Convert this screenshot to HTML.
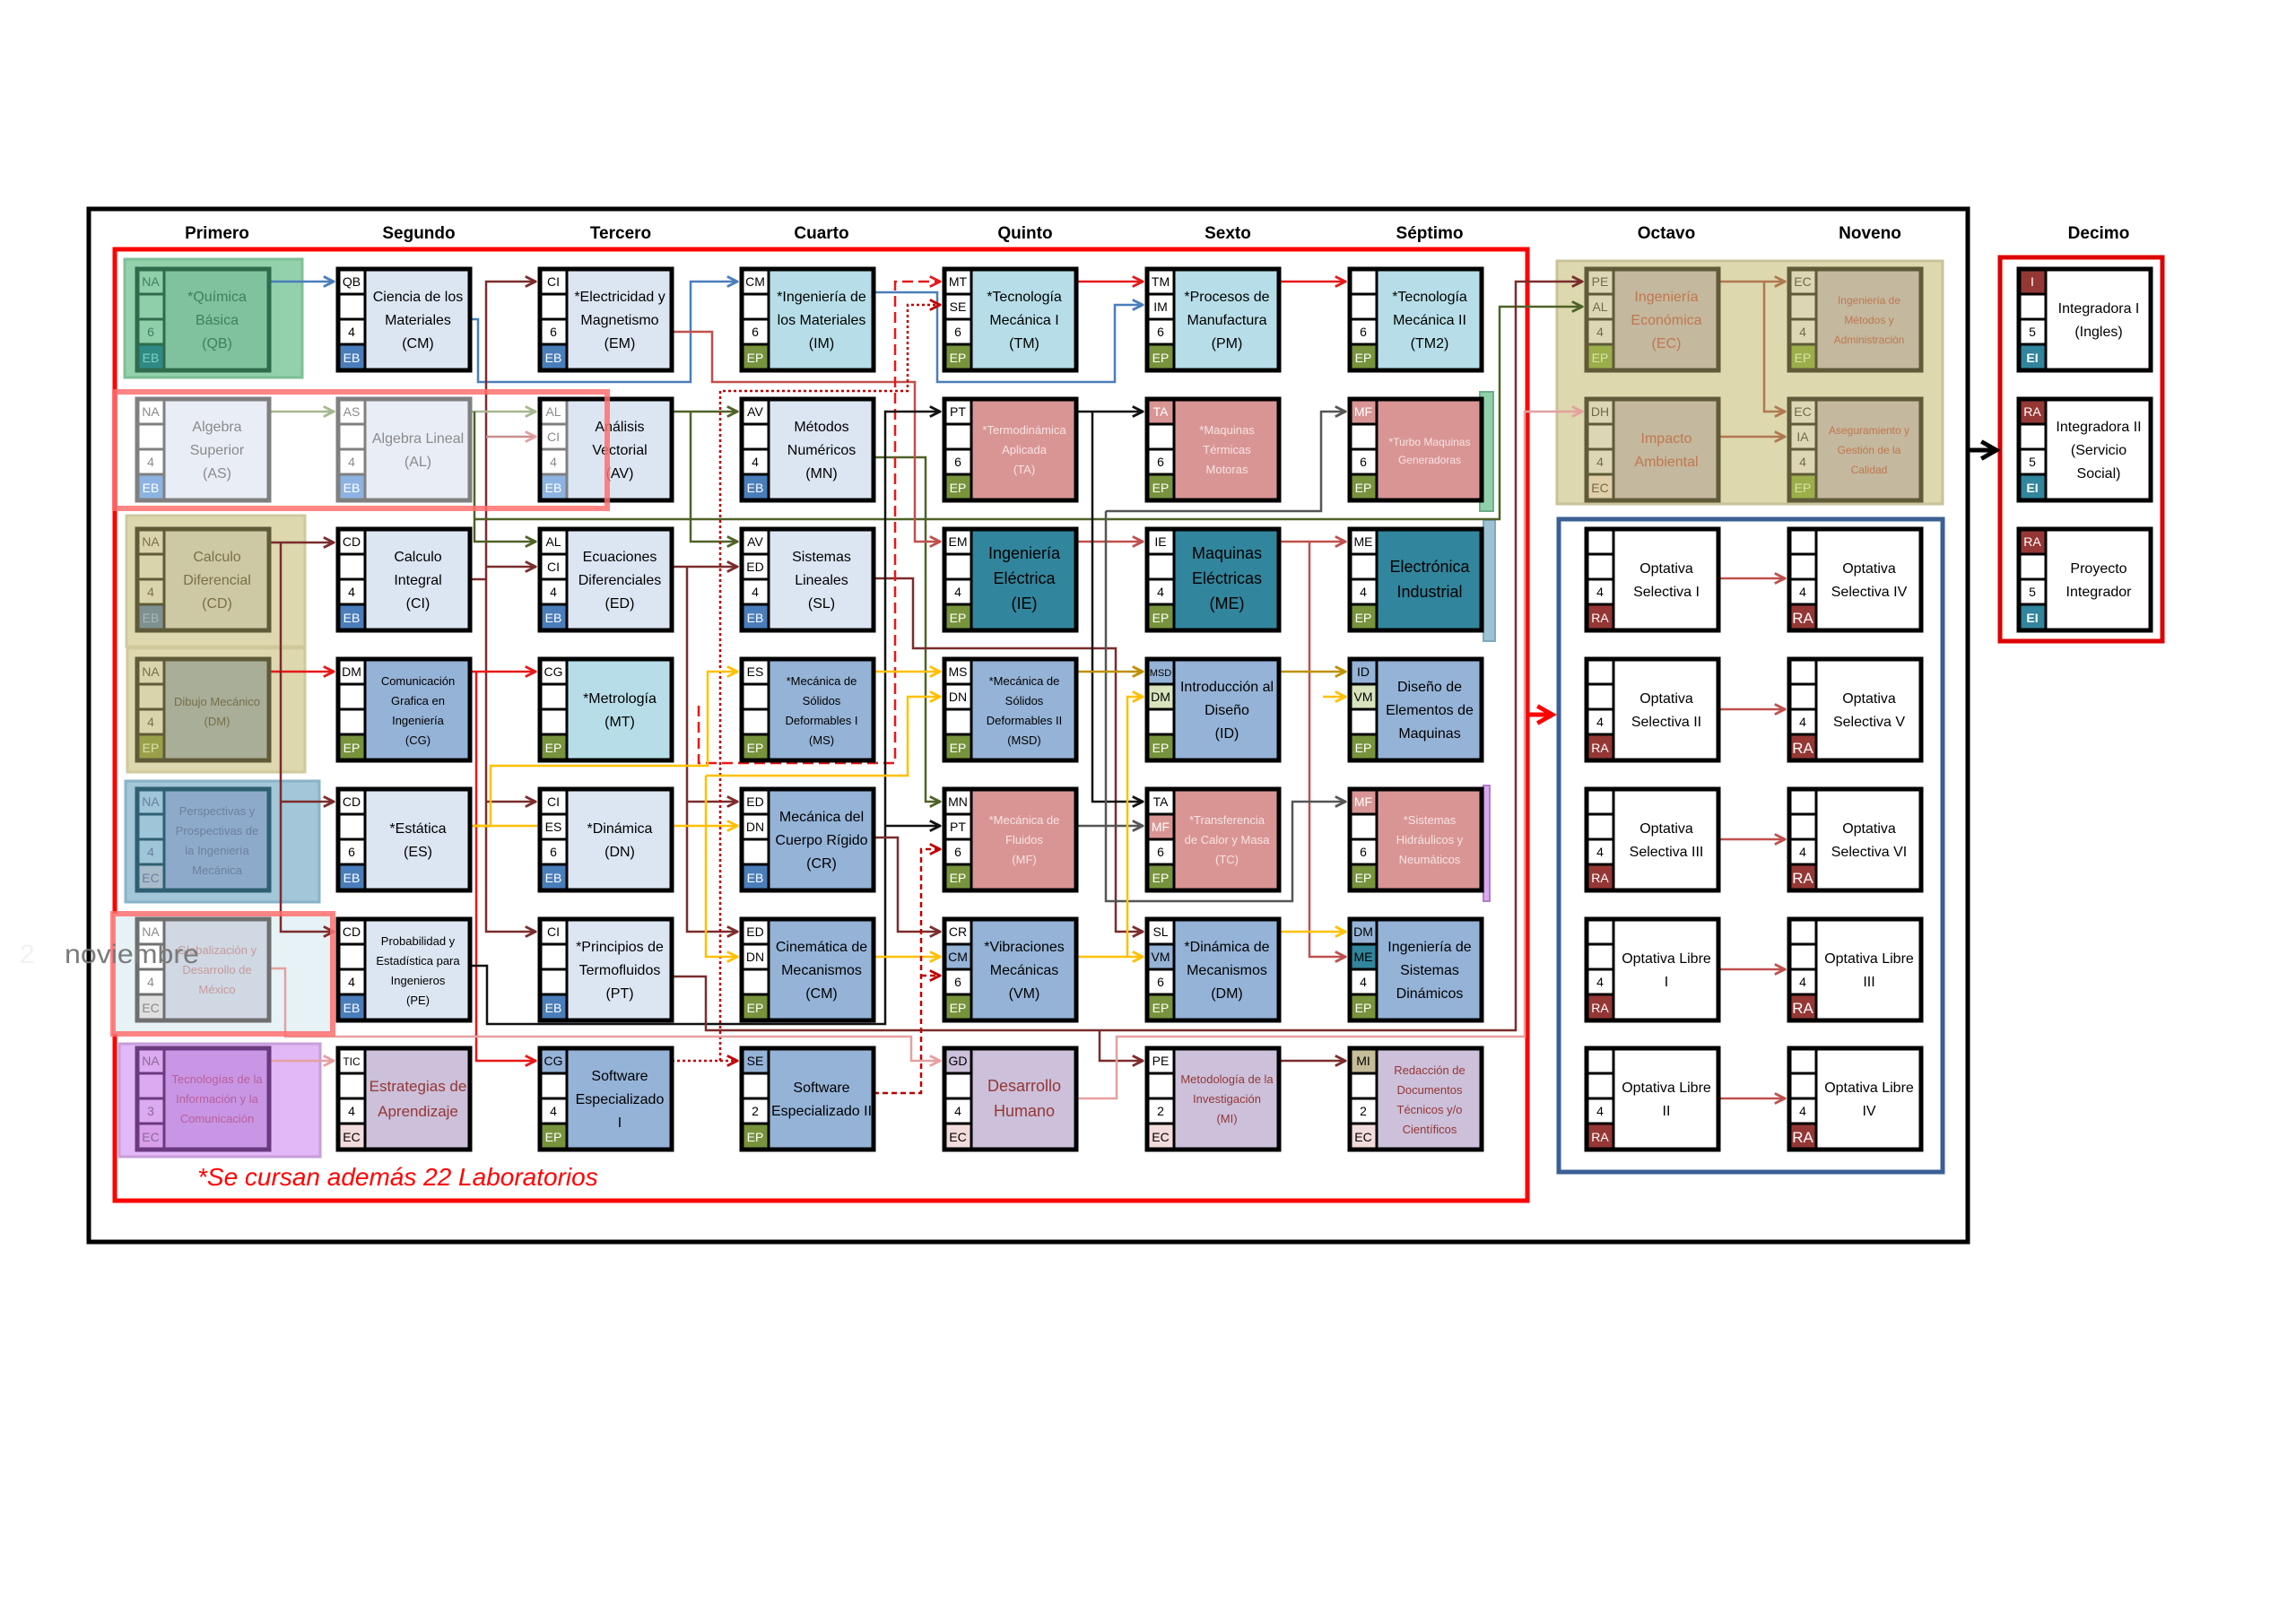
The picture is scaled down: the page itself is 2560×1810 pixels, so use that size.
<!DOCTYPE html>
<html><head><meta charset="utf-8"><style>
body{margin:0;background:#fff}
svg{display:block}
text{font-family:"Liberation Sans",sans-serif}
.c{font-size:14px;text-anchor:middle}
.t{font-size:16px;text-anchor:middle}
.s{font-size:13px;text-anchor:middle}
.h{font-size:19px;font-weight:bold;text-anchor:middle}
.w{fill:#fff}
</style></head><body>
<svg width="2560" height="1810" viewBox="0 0 2560 1810" xmlns="http://www.w3.org/2000/svg">
<defs>
<marker id="a" viewBox="0 0 10 10" refX="9" refY="5" markerWidth="14" markerHeight="14" markerUnits="userSpaceOnUse" orient="auto"><path d="M1,1 L9,5 L1,9" fill="none" stroke="#7b2c2c" stroke-width="2"/></marker>
<marker id="ar" viewBox="0 0 10 10" refX="9" refY="5" markerWidth="14" markerHeight="14" markerUnits="userSpaceOnUse" orient="auto"><path d="M1,1 L9,5 L1,9" fill="none" stroke="#e81818" stroke-width="2"/></marker>
<marker id="ab" viewBox="0 0 10 10" refX="9" refY="5" markerWidth="14" markerHeight="14" markerUnits="userSpaceOnUse" orient="auto"><path d="M1,1 L9,5 L1,9" fill="none" stroke="#4a7ebb" stroke-width="2"/></marker>
<marker id="ag" viewBox="0 0 10 10" refX="9" refY="5" markerWidth="14" markerHeight="14" markerUnits="userSpaceOnUse" orient="auto"><path d="M1,1 L9,5 L1,9" fill="none" stroke="#4f6228" stroke-width="2"/></marker>
<marker id="ay" viewBox="0 0 10 10" refX="9" refY="5" markerWidth="14" markerHeight="14" markerUnits="userSpaceOnUse" orient="auto"><path d="M1,1 L9,5 L1,9" fill="none" stroke="#ffc000" stroke-width="2"/></marker>
<marker id="ao" viewBox="0 0 10 10" refX="9" refY="5" markerWidth="14" markerHeight="14" markerUnits="userSpaceOnUse" orient="auto"><path d="M1,1 L9,5 L1,9" fill="none" stroke="#bf9000" stroke-width="2"/></marker>
<marker id="ak" viewBox="0 0 10 10" refX="9" refY="5" markerWidth="14" markerHeight="14" markerUnits="userSpaceOnUse" orient="auto"><path d="M1,1 L9,5 L1,9" fill="none" stroke="#111" stroke-width="2"/></marker>
<marker id="ae" viewBox="0 0 10 10" refX="9" refY="5" markerWidth="14" markerHeight="14" markerUnits="userSpaceOnUse" orient="auto"><path d="M1,1 L9,5 L1,9" fill="none" stroke="#555" stroke-width="2"/></marker>
<marker id="ap" viewBox="0 0 10 10" refX="9" refY="5" markerWidth="14" markerHeight="14" markerUnits="userSpaceOnUse" orient="auto"><path d="M1,1 L9,5 L1,9" fill="none" stroke="#c0504d" stroke-width="2"/></marker>
<marker id="aq" viewBox="0 0 10 10" refX="9" refY="5" markerWidth="14" markerHeight="14" markerUnits="userSpaceOnUse" orient="auto"><path d="M1,1 L9,5 L1,9" fill="none" stroke="#e6a0a0" stroke-width="2"/></marker>
<marker id="af" viewBox="0 0 10 10" refX="9" refY="5" markerWidth="14" markerHeight="14" markerUnits="userSpaceOnUse" orient="auto"><path d="M1,1 L9,5 L1,9" fill="none" stroke="#a6b890" stroke-width="2"/></marker>
<marker id="an" viewBox="0 0 10 10" refX="9" refY="5" markerWidth="14" markerHeight="14" markerUnits="userSpaceOnUse" orient="auto"><path d="M1,1 L9,5 L1,9" fill="none" stroke="#b07850" stroke-width="2"/></marker>
<marker id="ad" viewBox="0 0 10 10" refX="9" refY="5" markerWidth="14" markerHeight="14" markerUnits="userSpaceOnUse" orient="auto"><path d="M1,1 L9,5 L1,9" fill="none" stroke="#c00000" stroke-width="2"/></marker>
<marker id="aK" viewBox="0 0 10 10" refX="8" refY="5" markerWidth="24" markerHeight="24" markerUnits="userSpaceOnUse" orient="auto"><path d="M1,1 L8,5 L1,9" fill="none" stroke="#000" stroke-width="2"/></marker>
<marker id="aR" viewBox="0 0 10 10" refX="8" refY="5" markerWidth="24" markerHeight="24" markerUnits="userSpaceOnUse" orient="auto"><path d="M1,1 L8,5 L1,9" fill="none" stroke="#f00" stroke-width="2"/></marker>
</defs>

<rect x="99" y="233" width="2095" height="1152" fill="none" stroke="#000" stroke-width="5"/>
<rect x="128" y="278" width="1575" height="1061" fill="none" stroke="#f00" stroke-width="5"/>
<rect x="2230" y="287" width="181" height="428" fill="none" stroke="#d00" stroke-width="5"/>
<rect x="1736" y="291" width="430" height="271" fill="#ddd8ae" stroke="#c9c29a" stroke-width="3"/>
<rect x="1738" y="579" width="428" height="728" fill="none" stroke="#3a5f95" stroke-width="5"/>

<g class="h">
<text class="h" x="242" y="266">Primero</text><text class="h" x="467" y="266">Segundo</text><text class="h" x="692" y="266">Tercero</text><text class="h" x="916" y="266">Cuarto</text><text class="h" x="1143" y="266">Quinto</text><text class="h" x="1369" y="266">Sexto</text><text class="h" x="1594" y="266">Séptimo</text><text class="h" x="1858" y="266">Octavo</text><text class="h" x="2085" y="266">Noveno</text><text class="h" x="2340" y="266">Decimo</text>
</g>

<rect x="139" y="289" width="198" height="132" fill="#93d1ad" stroke="#7fbf98" stroke-width="3"/>
<rect x="141" y="575" width="199" height="146" fill="#ddd8ae" stroke="#cfc99c" stroke-width="3"/>
<rect x="142" y="723" width="198" height="138" fill="#ddd8ae" stroke="#cfc99c" stroke-width="3"/>
<rect x="140" y="871" width="216" height="135" fill="#a3c6d8" stroke="#8ab3c8" stroke-width="3"/>
<rect x="126" y="1019" width="245" height="134" fill="#e6f2f6"/>
<rect x="133" y="1164" width="224" height="126" fill="#e2b8f6" stroke="#c79ed8" stroke-width="3"/>
<rect x="1650" y="437" width="15" height="133" fill="#8fd0a8" stroke="#6fae88" stroke-width="2"/>
<rect x="1654" y="580" width="13" height="135" fill="#9cc3d4" stroke="#7fa8bb" stroke-width="2"/>
<rect x="1654" y="876" width="7" height="129" fill="#d9a8f0" stroke="#b07ec8" stroke-width="2"/>

<g fill="none" stroke-width="2.5">
<path d="M300,314H372" stroke="#4a7ebb" marker-end="url(#ab)"/>
<path d="M524,356H533V426H770V314H822" stroke="#4a7ebb" marker-end="url(#ab)"/>
<path d="M974,326H1045V426H1243V340H1274" stroke="#4a7ebb" marker-end="url(#ab)"/>
<path d="M524,646H542V314H597" stroke="#7b2c2c" marker-end="url(#a)"/>
<path d="M542,632H597" stroke="#7b2c2c" marker-end="url(#a)"/>
<path d="M542,646V1039H597" stroke="#7b2c2c" marker-end="url(#a)"/>
<path d="M542,894H597" stroke="#7b2c2c" marker-end="url(#a)"/>
<path d="M300,749H372" stroke="#e81818" marker-end="url(#ar)"/>
<path d="M524,749H597" stroke="#e81818" marker-end="url(#ar)"/>
<path d="M531,749V1183H597" stroke="#e81818" marker-end="url(#ar)"/>
<path d="M300,459H372" stroke="#a6b890" marker-end="url(#af)"/>
<path d="M524,459H597" stroke="#a6b890" marker-end="url(#af)"/>
<path d="M542,487H597" stroke="#c89090" marker-end="url(#aq)"/>
<path d="M529,459V604H597" stroke="#4f6228" marker-end="url(#ag)"/>
<path d="M529,579H1672V342H1764" stroke="#4f6228" marker-end="url(#ag)"/>
<path d="M749,459H822" stroke="#4f6228" marker-end="url(#ag)"/>
<path d="M770,459V604H822" stroke="#4f6228" marker-end="url(#ag)"/>
<path d="M974,510H1032V894H1048" stroke="#4f6228" marker-end="url(#ag)"/>
<path d="M749,632H822" stroke="#7b2c2c" marker-end="url(#a)"/>
<path d="M766,632V1039H822" stroke="#7b2c2c" marker-end="url(#a)"/>
<path d="M766,894H822" stroke="#7b2c2c" marker-end="url(#a)"/>
<path d="M974,645H1018V723H1244V1039H1274" stroke="#7b2c2c" marker-end="url(#a)"/>
<path d="M749,370H794V426H1020V604H1048" stroke="#c0504d" marker-end="url(#ap)"/>
<path d="M1200,604H1274" stroke="#c0504d" marker-end="url(#ap)"/>
<path d="M1426,604H1500" stroke="#c0504d" marker-end="url(#ap)"/>
<path d="M1460,604V1067H1500" stroke="#c0504d" marker-end="url(#ap)"/>
<path d="M1200,314H1274" stroke="#e81818" marker-end="url(#ar)"/>
<path d="M1426,314H1500" stroke="#e81818" marker-end="url(#ar)"/>
<path d="M779,787V851H998V314H1048" stroke="#e81818" stroke-dasharray="12,6" marker-end="url(#ar)"/>
<path d="M749,1183H803V436H1012V340H1048" stroke="#c00000" stroke-dasharray="3,3" marker-end="url(#ad)"/>
<path d="M803,1183H822" stroke="#c00000" stroke-dasharray="3,3" marker-end="url(#ad)"/>
<path d="M524,1077H543V1142H987V459H1048" stroke="#111" marker-end="url(#ak)"/>
<path d="M987,921H1048" stroke="#111" marker-end="url(#ak)"/>
<path d="M1200,459H1274" stroke="#111" marker-end="url(#ak)"/>
<path d="M1218,459V894H1274" stroke="#111" marker-end="url(#ak)"/>
<path d="M1200,921H1274" stroke="#555" marker-end="url(#ae)"/>
<path d="M1233,570V1005H1441V894H1500" stroke="#555" marker-end="url(#ae)"/>
<path d="M1233,570H1473V459H1500" stroke="#555" marker-end="url(#ae)"/>
<path d="M524,921H822" stroke="#ffc000" marker-end="url(#ay)"/>
<path d="M524,921H547V854H789V749H822" stroke="#ffc000" marker-end="url(#ay)"/>
<path d="M787,865V1067H822" stroke="#ffc000" marker-end="url(#ay)"/>
<path d="M787,865H1012V777H1048" stroke="#ffc000" marker-end="url(#ay)"/>
<path d="M974,749H1048" stroke="#ffc000" marker-end="url(#ay)"/>
<path d="M974,1067H1048" stroke="#ffc000" marker-end="url(#ay)"/>
<path d="M1200,1067H1274" stroke="#ffc000" marker-end="url(#ay)"/>
<path d="M1257,1067V777H1274" stroke="#ffc000" marker-end="url(#ay)"/>
<path d="M1426,1039H1500" stroke="#ffc000" marker-end="url(#ay)"/>
<path d="M1475,777H1500" stroke="#ffc000" marker-end="url(#ay)"/>
<path d="M1200,749H1274" stroke="#bf9000" marker-end="url(#ao)"/>
<path d="M1426,749H1500" stroke="#bf9000" marker-end="url(#ao)"/>
<path d="M300,605H372" stroke="#7b2c2c" marker-end="url(#a)"/>
<path d="M313,605V1039H372" stroke="#7b2c2c" marker-end="url(#a)"/>
<path d="M313,894H372" stroke="#7b2c2c" marker-end="url(#a)"/>
<path d="M749,1089H787V1149H1690V314H1764" stroke="#7b2c2c" marker-end="url(#a)"/>
<path d="M1226,1149V1183H1274" stroke="#7b2c2c" marker-end="url(#a)"/>
<path d="M1426,1183H1500" stroke="#7b2c2c" marker-end="url(#a)"/>
<path d="M974,934H1001V1039H1048" stroke="#7b2c2c" marker-end="url(#a)"/>
<path d="M974,1219H1027V947H1048" stroke="#c00000" stroke-dasharray="6,4" marker-end="url(#ad)"/>
<path d="M1027,1088H1048" stroke="#c00000" stroke-dasharray="6,4" marker-end="url(#ad)"/>
<path d="M300,1080H318V1156H1016V1183H1048" stroke="#e6a0a0" marker-end="url(#aq)"/>
<path d="M1200,1225H1245V1156H1700V459H1764" stroke="#e6a0a0" marker-end="url(#aq)"/>
<path d="M300,1183H372" stroke="#e6a0a0" marker-end="url(#aq)"/>
<path d="M1916,314H1990" stroke="#b07850" marker-end="url(#an)"/>
<path d="M1967,314V459H1990" stroke="#b07850" marker-end="url(#an)"/>
<path d="M1916,487H1990" stroke="#b07850" marker-end="url(#an)"/>
<path d="M1916,645H1990" stroke="#c0504d" marker-end="url(#ap)"/>
<path d="M1916,791H1990" stroke="#c0504d" marker-end="url(#ap)"/>
<path d="M1916,936H1990" stroke="#c0504d" marker-end="url(#ap)"/>
<path d="M1916,1081H1990" stroke="#c0504d" marker-end="url(#ap)"/>
<path d="M1916,1225H1990" stroke="#c0504d" marker-end="url(#ap)"/>
<path d="M2194,502H2226" stroke="#000" stroke-width="5" marker-end="url(#aK)"/>
<path d="M1705,797H1731" stroke="#f00" stroke-width="5" marker-end="url(#aR)"/>
</g>

<!-- Row 1 -->
<g transform="translate(153,300)"><rect width="147" height="113" fill="#80c29e"/><rect width="30" height="84" fill="#8fcfaa"/><rect y="84" width="30" height="29" fill="#2f8a86"/><path d="M30 0V113M0 28H30M0 56H30M0 84H30" stroke="#2f6b4c" stroke-width="3"/><rect width="147" height="113" fill="none" stroke="#2f6b4c" stroke-width="5"/><g fill="#3f7f5f"><text class="c" x="15" y="19">NA</text><text class="c" x="15" y="75">6</text><text class="c" x="15" y="104" fill="#7fd0c0">EB</text><text class="t" x="89" y="36">*Química</text><text class="t" x="89" y="62">Básica</text><text class="t" x="89" y="88">(QB)</text></g></g>
<g transform="translate(377,300)"><rect width="147" height="113" fill="#dce6f2"/><rect width="30" height="84" fill="#fff"/><rect y="84" width="30" height="29" fill="#4a7ebb"/><path d="M30 0V113M0 28H30M0 56H30M0 84H30" stroke="#000" stroke-width="3"/><rect width="147" height="113" fill="none" stroke="#000" stroke-width="5"/><text class="c" x="15" y="19">QB</text><text class="c" x="15" y="75">4</text><text class="c w" x="15" y="104">EB</text><text class="t" x="89" y="36">Ciencia de los</text><text class="t" x="89" y="62">Materiales</text><text class="t" x="89" y="88">(CM)</text></g>
<g transform="translate(602,300)"><rect width="147" height="113" fill="#dce6f2"/><rect width="30" height="84" fill="#fff"/><rect y="84" width="30" height="29" fill="#4a7ebb"/><path d="M30 0V113M0 28H30M0 56H30M0 84H30" stroke="#000" stroke-width="3"/><rect width="147" height="113" fill="none" stroke="#000" stroke-width="5"/><text class="c" x="15" y="19">CI</text><text class="c" x="15" y="75">6</text><text class="c w" x="15" y="104">EB</text><text class="t" x="89" y="36">*Electricidad y</text><text class="t" x="89" y="62">Magnetismo</text><text class="t" x="89" y="88">(EM)</text></g>
<g transform="translate(827,300)"><rect width="147" height="113" fill="#b7dee8"/><rect width="30" height="84" fill="#fff"/><rect y="84" width="30" height="29" fill="#77933c"/><path d="M30 0V113M0 28H30M0 56H30M0 84H30" stroke="#000" stroke-width="3"/><rect width="147" height="113" fill="none" stroke="#000" stroke-width="5"/><text class="c" x="15" y="19">CM</text><text class="c" x="15" y="75">6</text><text class="c w" x="15" y="104">EP</text><text class="t" x="89" y="36">*Ingeniería de</text><text class="t" x="89" y="62">los Materiales</text><text class="t" x="89" y="88">(IM)</text></g>
<g transform="translate(1053,300)"><rect width="147" height="113" fill="#b7dee8"/><rect width="30" height="84" fill="#fff"/><rect y="84" width="30" height="29" fill="#77933c"/><path d="M30 0V113M0 28H30M0 56H30M0 84H30" stroke="#000" stroke-width="3"/><rect width="147" height="113" fill="none" stroke="#000" stroke-width="5"/><text class="c" x="15" y="19">MT</text><text class="c" x="15" y="47">SE</text><text class="c" x="15" y="75">6</text><text class="c w" x="15" y="104">EP</text><text class="t" x="89" y="36">*Tecnología</text><text class="t" x="89" y="62">Mecánica I</text><text class="t" x="89" y="88">(TM)</text></g>
<g transform="translate(1279,300)"><rect width="147" height="113" fill="#b7dee8"/><rect width="30" height="84" fill="#fff"/><rect y="84" width="30" height="29" fill="#77933c"/><path d="M30 0V113M0 28H30M0 56H30M0 84H30" stroke="#000" stroke-width="3"/><rect width="147" height="113" fill="none" stroke="#000" stroke-width="5"/><text class="c" x="15" y="19">TM</text><text class="c" x="15" y="47">IM</text><text class="c" x="15" y="75">6</text><text class="c w" x="15" y="104">EP</text><text class="t" x="89" y="36">*Procesos de</text><text class="t" x="89" y="62">Manufactura</text><text class="t" x="89" y="88">(PM)</text></g>
<g transform="translate(1505,300)"><rect width="147" height="113" fill="#b7dee8"/><rect width="30" height="84" fill="#fff"/><rect y="84" width="30" height="29" fill="#77933c"/><path d="M30 0V113M0 28H30M0 56H30M0 84H30" stroke="#000" stroke-width="3"/><rect width="147" height="113" fill="none" stroke="#000" stroke-width="5"/><text class="c" x="15" y="75">6</text><text class="c w" x="15" y="104">EP</text><text class="t" x="89" y="36">*Tecnología</text><text class="t" x="89" y="62">Mecánica II</text><text class="t" x="89" y="88">(TM2)</text></g>

<!-- Row 2 -->
<g transform="translate(153,445)"><rect width="147" height="113" fill="#e9eef6"/><rect width="30" height="84" fill="#fff"/><rect y="84" width="30" height="29" fill="#8db3e2"/><path d="M30 0V113M0 28H30M0 56H30M0 84H30" stroke="#808080" stroke-width="3"/><rect width="147" height="113" fill="none" stroke="#808080" stroke-width="5"/><g fill="#8a8a8a"><text class="c" x="15" y="19">NA</text><text class="c" x="15" y="75">4</text><text class="c w" x="15" y="104">EB</text><text class="t" x="89" y="36">Algebra</text><text class="t" x="89" y="62">Superior</text><text class="t" x="89" y="88">(AS)</text></g></g>
<g transform="translate(377,445)"><rect width="147" height="113" fill="#e9eef6"/><rect width="30" height="84" fill="#fff"/><rect y="84" width="30" height="29" fill="#8db3e2"/><path d="M30 0V113M0 28H30M0 56H30M0 84H30" stroke="#808080" stroke-width="3"/><rect width="147" height="113" fill="none" stroke="#808080" stroke-width="5"/><g fill="#8a8a8a"><text class="c" x="15" y="19">AS</text><text class="c" x="15" y="75">4</text><text class="c w" x="15" y="104">EB</text><text class="t" x="89" y="49">Algebra Lineal</text><text class="t" x="89" y="75">(AL)</text></g></g>
<g transform="translate(602,445)"><rect width="147" height="113" fill="#dce6f2"/><rect width="30" height="84" fill="#fff"/><rect y="84" width="30" height="29" fill="#8db3e2"/><path d="M30 0V113M0 28H30M0 56H30M0 84H30" stroke="#808080" stroke-width="3"/><rect width="147" height="113" fill="none" stroke="#000" stroke-width="5"/><text class="c" x="15" y="19" fill="#8a8a8a">AL</text><text class="c" x="15" y="47" fill="#8a8a8a">CI</text><text class="c" x="15" y="75" fill="#8a8a8a">4</text><text class="c w" x="15" y="104">EB</text><text class="t" x="89" y="36">Análisis</text><text class="t" x="89" y="62">Vectorial</text><text class="t" x="89" y="88">(AV)</text></g>
<g transform="translate(827,445)"><rect width="147" height="113" fill="#dce6f2"/><rect width="30" height="84" fill="#fff"/><rect y="84" width="30" height="29" fill="#4a7ebb"/><path d="M30 0V113M0 28H30M0 56H30M0 84H30" stroke="#000" stroke-width="3"/><rect width="147" height="113" fill="none" stroke="#000" stroke-width="5"/><text class="c" x="15" y="19">AV</text><text class="c" x="15" y="75">4</text><text class="c w" x="15" y="104">EB</text><text class="t" x="89" y="36">Métodos</text><text class="t" x="89" y="62">Numéricos</text><text class="t" x="89" y="88">(MN)</text></g>
<g transform="translate(1053,445)"><rect width="147" height="113" fill="#d99594"/><rect width="30" height="84" fill="#fff"/><rect y="84" width="30" height="29" fill="#77933c"/><path d="M30 0V113M0 28H30M0 56H30M0 84H30" stroke="#000" stroke-width="3"/><rect width="147" height="113" fill="none" stroke="#000" stroke-width="5"/><text class="c" x="15" y="19">PT</text><text class="c" x="15" y="75">6</text><text class="c w" x="15" y="104">EP</text><g fill="#f6e4e4"><text class="s" x="89" y="39">*Termodinámica</text><text class="s" x="89" y="61">Aplicada</text><text class="s" x="89" y="83">(TA)</text></g></g>
<g transform="translate(1279,445)"><rect width="147" height="113" fill="#d99594"/><rect width="30" height="84" fill="#fff"/><rect width="30" height="28" fill="#d99594"/><rect y="84" width="30" height="29" fill="#77933c"/><path d="M30 0V113M0 28H30M0 56H30M0 84H30" stroke="#000" stroke-width="3"/><rect width="147" height="113" fill="none" stroke="#000" stroke-width="5"/><text class="c w" x="15" y="19">TA</text><text class="c" x="15" y="75">6</text><text class="c w" x="15" y="104">EP</text><g fill="#f6e4e4"><text class="s" x="89" y="39">*Maquinas</text><text class="s" x="89" y="61">Térmicas</text><text class="s" x="89" y="83">Motoras</text></g></g>
<g transform="translate(1505,445)"><rect width="147" height="113" fill="#d99594"/><rect width="30" height="84" fill="#fff"/><rect width="30" height="28" fill="#d99594"/><rect y="84" width="30" height="29" fill="#77933c"/><path d="M30 0V113M0 28H30M0 56H30M0 84H30" stroke="#000" stroke-width="3"/><rect width="147" height="113" fill="none" stroke="#000" stroke-width="5"/><text class="c w" x="15" y="19">MF</text><text class="c" x="15" y="75">6</text><text class="c w" x="15" y="104">EP</text><g fill="#f6e4e4"><text class="s" x="89" y="52" style="font-size:12px">*Turbo Maquinas</text><text class="s" x="89" y="72" style="font-size:12px">Generadoras</text></g></g>

<rect x="128" y="437" width="549" height="130" fill="none" stroke="#ff6f6f" stroke-opacity="0.85" stroke-width="6"/>

<!-- Row 3 -->
<g transform="translate(153,590)"><rect width="147" height="113" fill="#cdc9a5"/><rect width="30" height="84" fill="#d9d4ab"/><rect y="84" width="30" height="29" fill="#7f9090"/><path d="M30 0V113M0 28H30M0 56H30M0 84H30" stroke="#5f5a38" stroke-width="3"/><rect width="147" height="113" fill="none" stroke="#5f5a38" stroke-width="5"/><g fill="#7a7045"><text class="c" x="15" y="19">NA</text><text class="c" x="15" y="75">4</text><text class="c" x="15" y="104" fill="#a8b8b8">EB</text><text class="t" x="89" y="36">Calculo</text><text class="t" x="89" y="62">Diferencial</text><text class="t" x="89" y="88">(CD)</text></g></g>
<g transform="translate(377,590)"><rect width="147" height="113" fill="#dce6f2"/><rect width="30" height="84" fill="#fff"/><rect y="84" width="30" height="29" fill="#4a7ebb"/><path d="M30 0V113M0 28H30M0 56H30M0 84H30" stroke="#000" stroke-width="3"/><rect width="147" height="113" fill="none" stroke="#000" stroke-width="5"/><text class="c" x="15" y="19">CD</text><text class="c" x="15" y="75">4</text><text class="c w" x="15" y="104">EB</text><text class="t" x="89" y="36">Calculo</text><text class="t" x="89" y="62">Integral</text><text class="t" x="89" y="88">(CI)</text></g>
<g transform="translate(602,590)"><rect width="147" height="113" fill="#dce6f2"/><rect width="30" height="84" fill="#fff"/><rect y="84" width="30" height="29" fill="#4a7ebb"/><path d="M30 0V113M0 28H30M0 56H30M0 84H30" stroke="#000" stroke-width="3"/><rect width="147" height="113" fill="none" stroke="#000" stroke-width="5"/><text class="c" x="15" y="19">AL</text><text class="c" x="15" y="47">CI</text><text class="c" x="15" y="75">4</text><text class="c w" x="15" y="104">EB</text><text class="t" x="89" y="36">Ecuaciones</text><text class="t" x="89" y="62">Diferenciales</text><text class="t" x="89" y="88">(ED)</text></g>
<g transform="translate(827,590)"><rect width="147" height="113" fill="#dce6f2"/><rect width="30" height="84" fill="#fff"/><rect y="84" width="30" height="29" fill="#4a7ebb"/><path d="M30 0V113M0 28H30M0 56H30M0 84H30" stroke="#000" stroke-width="3"/><rect width="147" height="113" fill="none" stroke="#000" stroke-width="5"/><text class="c" x="15" y="19">AV</text><text class="c" x="15" y="47">ED</text><text class="c" x="15" y="75">4</text><text class="c w" x="15" y="104">EB</text><text class="t" x="89" y="36">Sistemas</text><text class="t" x="89" y="62">Lineales</text><text class="t" x="89" y="88">(SL)</text></g>
<g transform="translate(1053,590)"><rect width="147" height="113" fill="#31859c"/><rect width="30" height="84" fill="#fff"/><rect y="84" width="30" height="29" fill="#77933c"/><path d="M30 0V113M0 28H30M0 56H30M0 84H30" stroke="#000" stroke-width="3"/><rect width="147" height="113" fill="none" stroke="#000" stroke-width="5"/><text class="c" x="15" y="19">EM</text><text class="c" x="15" y="75">4</text><text class="c w" x="15" y="104">EP</text><text class="t" x="89" y="33" style="font-size:18px">Ingeniería</text><text class="t" x="89" y="61" style="font-size:18px">Eléctrica</text><text class="t" x="89" y="89" style="font-size:18px">(IE)</text></g>
<g transform="translate(1279,590)"><rect width="147" height="113" fill="#31859c"/><rect width="30" height="84" fill="#fff"/><rect y="84" width="30" height="29" fill="#77933c"/><path d="M30 0V113M0 28H30M0 56H30M0 84H30" stroke="#000" stroke-width="3"/><rect width="147" height="113" fill="none" stroke="#000" stroke-width="5"/><text class="c" x="15" y="19">IE</text><text class="c" x="15" y="75">4</text><text class="c w" x="15" y="104">EP</text><text class="t" x="89" y="33" style="font-size:18px">Maquinas</text><text class="t" x="89" y="61" style="font-size:18px">Eléctricas</text><text class="t" x="89" y="89" style="font-size:18px">(ME)</text></g>
<g transform="translate(1505,590)"><rect width="147" height="113" fill="#31859c"/><rect width="30" height="84" fill="#fff"/><rect y="84" width="30" height="29" fill="#77933c"/><path d="M30 0V113M0 28H30M0 56H30M0 84H30" stroke="#000" stroke-width="3"/><rect width="147" height="113" fill="none" stroke="#000" stroke-width="5"/><text class="c" x="15" y="19">ME</text><text class="c" x="15" y="75">4</text><text class="c w" x="15" y="104">EP</text><text class="t" x="89" y="48" style="font-size:18px">Electrónica</text><text class="t" x="89" y="76" style="font-size:18px">Industrial</text></g>

<!-- Row 4 -->
<g transform="translate(153,735)"><rect width="147" height="113" fill="#a9ae98"/><rect width="30" height="84" fill="#d9d4ab"/><rect y="84" width="30" height="29" fill="#9aa04a"/><path d="M30 0V113M0 28H30M0 56H30M0 84H30" stroke="#5f5a38" stroke-width="3"/><rect width="147" height="113" fill="none" stroke="#5f5a38" stroke-width="5"/><g fill="#76704a"><text class="c" x="15" y="19">NA</text><text class="c" x="15" y="75">4</text><text class="c" x="15" y="104" fill="#d8e0a8">EP</text><text class="s" x="89" y="52">Dibujo Mecánico</text><text class="s" x="89" y="74">(DM)</text></g></g>
<g transform="translate(377,735)"><rect width="147" height="113" fill="#95b3d7"/><rect width="30" height="84" fill="#fff"/><rect y="84" width="30" height="29" fill="#77933c"/><path d="M30 0V113M0 28H30M0 56H30M0 84H30" stroke="#000" stroke-width="3"/><rect width="147" height="113" fill="none" stroke="#000" stroke-width="5"/><text class="c" x="15" y="19">DM</text><text class="c w" x="15" y="104">EP</text><text class="s" x="89" y="29">Comunicación</text><text class="s" x="89" y="51">Grafica en</text><text class="s" x="89" y="73">Ingeniería</text><text class="s" x="89" y="95">(CG)</text></g>
<g transform="translate(602,735)"><rect width="147" height="113" fill="#b7dee8"/><rect width="30" height="84" fill="#fff"/><rect y="84" width="30" height="29" fill="#77933c"/><path d="M30 0V113M0 28H30M0 56H30M0 84H30" stroke="#000" stroke-width="3"/><rect width="147" height="113" fill="none" stroke="#000" stroke-width="5"/><text class="c" x="15" y="19">CG</text><text class="c w" x="15" y="104">EP</text><text class="t" x="89" y="49">*Metrología</text><text class="t" x="89" y="75">(MT)</text></g>
<g transform="translate(827,735)"><rect width="147" height="113" fill="#95b3d7"/><rect width="30" height="84" fill="#fff"/><rect y="84" width="30" height="29" fill="#77933c"/><path d="M30 0V113M0 28H30M0 56H30M0 84H30" stroke="#000" stroke-width="3"/><rect width="147" height="113" fill="none" stroke="#000" stroke-width="5"/><text class="c" x="15" y="19">ES</text><text class="c w" x="15" y="104">EP</text><text class="s" x="89" y="29">*Mecánica de</text><text class="s" x="89" y="51">Sólidos</text><text class="s" x="89" y="73">Deformables I</text><text class="s" x="89" y="95">(MS)</text></g>
<g transform="translate(1053,735)"><rect width="147" height="113" fill="#95b3d7"/><rect width="30" height="84" fill="#fff"/><rect y="84" width="30" height="29" fill="#77933c"/><path d="M30 0V113M0 28H30M0 56H30M0 84H30" stroke="#000" stroke-width="3"/><rect width="147" height="113" fill="none" stroke="#000" stroke-width="5"/><text class="c" x="15" y="19">MS</text><text class="c" x="15" y="47">DN</text><text class="c w" x="15" y="104">EP</text><text class="s" x="89" y="29">*Mecánica de</text><text class="s" x="89" y="51">Sólidos</text><text class="s" x="89" y="73">Deformables II</text><text class="s" x="89" y="95">(MSD)</text></g>
<g transform="translate(1279,735)"><rect width="147" height="113" fill="#95b3d7"/><rect width="30" height="84" fill="#fff"/><rect width="30" height="28" fill="#95b3d7"/><rect y="28" width="30" height="28" fill="#d7e4bd"/><rect y="84" width="30" height="29" fill="#77933c"/><path d="M30 0V113M0 28H30M0 56H30M0 84H30" stroke="#000" stroke-width="3"/><rect width="147" height="113" fill="none" stroke="#000" stroke-width="5"/><text class="c" x="15" y="19" style="font-size:11px">MSD</text><text class="c" x="15" y="47">DM</text><text class="c w" x="15" y="104">EP</text><text class="t" x="89" y="36">Introducción al</text><text class="t" x="89" y="62">Diseño</text><text class="t" x="89" y="88">(ID)</text></g>
<g transform="translate(1505,735)"><rect width="147" height="113" fill="#95b3d7"/><rect width="30" height="84" fill="#fff"/><rect width="30" height="28" fill="#95b3d7"/><rect y="28" width="30" height="28" fill="#d7e4bd"/><rect y="84" width="30" height="29" fill="#77933c"/><path d="M30 0V113M0 28H30M0 56H30M0 84H30" stroke="#000" stroke-width="3"/><rect width="147" height="113" fill="none" stroke="#000" stroke-width="5"/><text class="c" x="15" y="19">ID</text><text class="c" x="15" y="47">VM</text><text class="c w" x="15" y="104">EP</text><text class="t" x="89" y="36">Diseño de</text><text class="t" x="89" y="62">Elementos de</text><text class="t" x="89" y="88">Maquinas</text></g>

<!-- Row 5 -->
<g transform="translate(153,880)"><rect width="147" height="113" fill="#8eaacb"/><rect width="30" height="84" fill="#9fc5d8"/><rect y="84" width="30" height="29" fill="#a8bccb"/><path d="M30 0V113M0 28H30M0 56H30M0 84H30" stroke="#2f5f72" stroke-width="3"/><rect width="147" height="113" fill="none" stroke="#2f5f72" stroke-width="5"/><g fill="#6a80a0"><text class="c" x="15" y="19">NA</text><text class="c" x="15" y="75">4</text><text class="c" x="15" y="104">EC</text><text class="s" x="89" y="29">Perspectivas y</text><text class="s" x="89" y="51">Prospectivas de</text><text class="s" x="89" y="73">la Ingeniería</text><text class="s" x="89" y="95">Mecánica</text></g></g>
<g transform="translate(377,880)"><rect width="147" height="113" fill="#dce6f2"/><rect width="30" height="84" fill="#fff"/><rect y="84" width="30" height="29" fill="#4a7ebb"/><path d="M30 0V113M0 28H30M0 56H30M0 84H30" stroke="#000" stroke-width="3"/><rect width="147" height="113" fill="none" stroke="#000" stroke-width="5"/><text class="c" x="15" y="19">CD</text><text class="c" x="15" y="75">6</text><text class="c w" x="15" y="104">EB</text><text class="t" x="89" y="49">*Estática</text><text class="t" x="89" y="75">(ES)</text></g>
<g transform="translate(602,880)"><rect width="147" height="113" fill="#dce6f2"/><rect width="30" height="84" fill="#fff"/><rect y="84" width="30" height="29" fill="#4a7ebb"/><path d="M30 0V113M0 28H30M0 56H30M0 84H30" stroke="#000" stroke-width="3"/><rect width="147" height="113" fill="none" stroke="#000" stroke-width="5"/><text class="c" x="15" y="19">CI</text><text class="c" x="15" y="47">ES</text><text class="c" x="15" y="75">6</text><text class="c w" x="15" y="104">EB</text><text class="t" x="89" y="49">*Dinámica</text><text class="t" x="89" y="75">(DN)</text></g>
<g transform="translate(827,880)"><rect width="147" height="113" fill="#95b3d7"/><rect width="30" height="84" fill="#fff"/><rect y="84" width="30" height="29" fill="#4a7ebb"/><path d="M30 0V113M0 28H30M0 56H30M0 84H30" stroke="#000" stroke-width="3"/><rect width="147" height="113" fill="none" stroke="#000" stroke-width="5"/><text class="c" x="15" y="19">ED</text><text class="c" x="15" y="47">DN</text><text class="c w" x="15" y="104">EB</text><text class="t" x="89" y="36">Mecánica del</text><text class="t" x="89" y="62">Cuerpo Rígido</text><text class="t" x="89" y="88">(CR)</text></g>
<g transform="translate(1053,880)"><rect width="147" height="113" fill="#d99594"/><rect width="30" height="84" fill="#fff"/><rect y="84" width="30" height="29" fill="#77933c"/><path d="M30 0V113M0 28H30M0 56H30M0 84H30" stroke="#000" stroke-width="3"/><rect width="147" height="113" fill="none" stroke="#000" stroke-width="5"/><text class="c" x="15" y="19">MN</text><text class="c" x="15" y="47">PT</text><text class="c" x="15" y="75">6</text><text class="c w" x="15" y="104">EP</text><g fill="#f6e4e4"><text class="s" x="89" y="39">*Mecánica de</text><text class="s" x="89" y="61">Fluidos</text><text class="s" x="89" y="83">(MF)</text></g></g>
<g transform="translate(1279,880)"><rect width="147" height="113" fill="#d99594"/><rect width="30" height="84" fill="#fff"/><rect y="28" width="30" height="28" fill="#d99594"/><rect y="84" width="30" height="29" fill="#77933c"/><path d="M30 0V113M0 28H30M0 56H30M0 84H30" stroke="#000" stroke-width="3"/><rect width="147" height="113" fill="none" stroke="#000" stroke-width="5"/><text class="c" x="15" y="19">TA</text><text class="c w" x="15" y="47">MF</text><text class="c" x="15" y="75">6</text><text class="c w" x="15" y="104">EP</text><g fill="#f6e4e4"><text class="s" x="89" y="39">*Transferencia</text><text class="s" x="89" y="61">de Calor y Masa</text><text class="s" x="89" y="83">(TC)</text></g></g>
<g transform="translate(1505,880)"><rect width="147" height="113" fill="#d99594"/><rect width="30" height="84" fill="#fff"/><rect width="30" height="28" fill="#d99594"/><rect y="84" width="30" height="29" fill="#77933c"/><path d="M30 0V113M0 28H30M0 56H30M0 84H30" stroke="#000" stroke-width="3"/><rect width="147" height="113" fill="none" stroke="#000" stroke-width="5"/><text class="c w" x="15" y="19">MF</text><text class="c" x="15" y="75">6</text><text class="c w" x="15" y="104">EP</text><g fill="#f6e4e4"><text class="s" x="89" y="39">*Sistemas</text><text class="s" x="89" y="61">Hidráulicos y</text><text class="s" x="89" y="83">Neumáticos</text></g></g>

<!-- Row 6 -->
<g transform="translate(153,1025)"><rect width="147" height="113" fill="#d0d8e4"/><rect width="30" height="84" fill="#fff"/><rect y="84" width="30" height="29" fill="#e0e0e0"/><path d="M30 0V113M0 28H30M0 56H30M0 84H30" stroke="#6f6f6f" stroke-width="3"/><rect width="147" height="113" fill="none" stroke="#6f6f6f" stroke-width="5"/><g fill="#8a8a8a"><text class="c" x="15" y="19">NA</text><text class="c" x="15" y="75">4</text><text class="c" x="15" y="104">EC</text></g><g fill="#c89a9a"><text class="s" x="89" y="39">Globalización y</text><text class="s" x="89" y="61">Desarrollo de</text><text class="s" x="89" y="83">México</text></g></g>
<rect x="126" y="1019" width="245" height="134" fill="none" stroke="#ff6f6f" stroke-opacity="0.85" stroke-width="6"/>
<g transform="translate(377,1025)"><rect width="147" height="113" fill="#dce6f2"/><rect width="30" height="84" fill="#fff"/><rect y="84" width="30" height="29" fill="#4a7ebb"/><path d="M30 0V113M0 28H30M0 56H30M0 84H30" stroke="#000" stroke-width="3"/><rect width="147" height="113" fill="none" stroke="#000" stroke-width="5"/><text class="c" x="15" y="19">CD</text><text class="c" x="15" y="75">4</text><text class="c w" x="15" y="104">EB</text><text class="s" x="89" y="29">Probabilidad y</text><text class="s" x="89" y="51">Estadística para</text><text class="s" x="89" y="73">Ingenieros</text><text class="s" x="89" y="95">(PE)</text></g>
<g transform="translate(602,1025)"><rect width="147" height="113" fill="#dce6f2"/><rect width="30" height="84" fill="#fff"/><rect y="84" width="30" height="29" fill="#4a7ebb"/><path d="M30 0V113M0 28H30M0 56H30M0 84H30" stroke="#000" stroke-width="3"/><rect width="147" height="113" fill="none" stroke="#000" stroke-width="5"/><text class="c" x="15" y="19">CI</text><text class="c w" x="15" y="104">EB</text><text class="t" x="89" y="36">*Principios de</text><text class="t" x="89" y="62">Termofluidos</text><text class="t" x="89" y="88">(PT)</text></g>
<g transform="translate(827,1025)"><rect width="147" height="113" fill="#95b3d7"/><rect width="30" height="84" fill="#fff"/><rect y="84" width="30" height="29" fill="#77933c"/><path d="M30 0V113M0 28H30M0 56H30M0 84H30" stroke="#000" stroke-width="3"/><rect width="147" height="113" fill="none" stroke="#000" stroke-width="5"/><text class="c" x="15" y="19">ED</text><text class="c" x="15" y="47">DN</text><text class="c w" x="15" y="104">EP</text><text class="t" x="89" y="36">Cinemática de</text><text class="t" x="89" y="62">Mecanismos</text><text class="t" x="89" y="88">(CM)</text></g>
<g transform="translate(1053,1025)"><rect width="147" height="113" fill="#95b3d7"/><rect width="30" height="84" fill="#fff"/><rect y="28" width="30" height="28" fill="#95b3d7"/><rect y="84" width="30" height="29" fill="#77933c"/><path d="M30 0V113M0 28H30M0 56H30M0 84H30" stroke="#000" stroke-width="3"/><rect width="147" height="113" fill="none" stroke="#000" stroke-width="5"/><text class="c" x="15" y="19">CR</text><text class="c" x="15" y="47">CM</text><text class="c" x="15" y="75">6</text><text class="c w" x="15" y="104">EP</text><text class="t" x="89" y="36">*Vibraciones</text><text class="t" x="89" y="62">Mecánicas</text><text class="t" x="89" y="88">(VM)</text></g>
<g transform="translate(1279,1025)"><rect width="147" height="113" fill="#95b3d7"/><rect width="30" height="84" fill="#fff"/><rect y="28" width="30" height="28" fill="#95b3d7"/><rect y="84" width="30" height="29" fill="#77933c"/><path d="M30 0V113M0 28H30M0 56H30M0 84H30" stroke="#000" stroke-width="3"/><rect width="147" height="113" fill="none" stroke="#000" stroke-width="5"/><text class="c" x="15" y="19">SL</text><text class="c" x="15" y="47">VM</text><text class="c" x="15" y="75">6</text><text class="c w" x="15" y="104">EP</text><text class="t" x="89" y="36">*Dinámica de</text><text class="t" x="89" y="62">Mecanismos</text><text class="t" x="89" y="88">(DM)</text></g>
<g transform="translate(1505,1025)"><rect width="147" height="113" fill="#95b3d7"/><rect width="30" height="84" fill="#fff"/><rect width="30" height="28" fill="#95b3d7"/><rect y="28" width="30" height="28" fill="#31859c"/><rect y="84" width="30" height="29" fill="#77933c"/><path d="M30 0V113M0 28H30M0 56H30M0 84H30" stroke="#000" stroke-width="3"/><rect width="147" height="113" fill="none" stroke="#000" stroke-width="5"/><text class="c" x="15" y="19">DM</text><text class="c" x="15" y="47">ME</text><text class="c" x="15" y="75">4</text><text class="c w" x="15" y="104">EP</text><text class="t" x="89" y="36">Ingeniería de</text><text class="t" x="89" y="62">Sistemas</text><text class="t" x="89" y="88">Dinámicos</text></g>

<!-- Row 7 -->
<g transform="translate(153,1169)"><rect width="147" height="113" fill="#c896e4"/><rect width="30" height="84" fill="#dcaaf0"/><rect y="84" width="30" height="29" fill="#d8a0ea"/><path d="M30 0V113M0 28H30M0 56H30M0 84H30" stroke="#6a3a80" stroke-width="3"/><rect width="147" height="113" fill="none" stroke="#6a3a80" stroke-width="5"/><g fill="#8a6a9a"><text class="c" x="15" y="19">NA</text><text class="c" x="15" y="75">3</text><text class="c" x="15" y="104">EC</text></g><g fill="#b8609e"><text class="s" x="89" y="39">Tecnologías de la</text><text class="s" x="89" y="61">Información y la</text><text class="s" x="89" y="83">Comunicación</text></g></g>
<g transform="translate(377,1169)"><rect width="147" height="113" fill="#ccc0da"/><rect width="30" height="84" fill="#fff"/><rect y="84" width="30" height="29" fill="#f2dcdb"/><path d="M30 0V113M0 28H30M0 56H30M0 84H30" stroke="#000" stroke-width="3"/><rect width="147" height="113" fill="none" stroke="#000" stroke-width="5"/><text class="c" x="15" y="19" style="font-size:12px">TIC</text><text class="c" x="15" y="75">4</text><text class="c" x="15" y="104">EC</text><text class="t" x="89" y="48" fill="#953735" style="font-size:17px">Estrategias de</text><text class="t" x="89" y="76" fill="#953735" style="font-size:17px">Aprendizaje</text></g>
<g transform="translate(602,1169)"><rect width="147" height="113" fill="#95b3d7"/><rect width="30" height="84" fill="#fff"/><rect width="30" height="28" fill="#95b3d7"/><rect y="84" width="30" height="29" fill="#77933c"/><path d="M30 0V113M0 28H30M0 56H30M0 84H30" stroke="#000" stroke-width="3"/><rect width="147" height="113" fill="none" stroke="#000" stroke-width="5"/><text class="c" x="15" y="19">CG</text><text class="c" x="15" y="75">4</text><text class="c w" x="15" y="104">EP</text><text class="t" x="89" y="36">Software</text><text class="t" x="89" y="62">Especializado</text><text class="t" x="89" y="88">I</text></g>
<g transform="translate(827,1169)"><rect width="147" height="113" fill="#95b3d7"/><rect width="30" height="84" fill="#fff"/><rect width="30" height="28" fill="#95b3d7"/><rect y="84" width="30" height="29" fill="#77933c"/><path d="M30 0V113M0 28H30M0 56H30M0 84H30" stroke="#000" stroke-width="3"/><rect width="147" height="113" fill="none" stroke="#000" stroke-width="5"/><text class="c" x="15" y="19">SE</text><text class="c" x="15" y="75">2</text><text class="c w" x="15" y="104">EP</text><text class="t" x="89" y="49">Software</text><text class="t" x="89" y="75">Especializado II</text></g>
<g transform="translate(1053,1169)"><rect width="147" height="113" fill="#ccc0da"/><rect width="30" height="84" fill="#fff"/><rect width="30" height="28" fill="#ccc0da"/><rect y="84" width="30" height="29" fill="#f2dcdb"/><path d="M30 0V113M0 28H30M0 56H30M0 84H30" stroke="#000" stroke-width="3"/><rect width="147" height="113" fill="none" stroke="#000" stroke-width="5"/><text class="c" x="15" y="19">GD</text><text class="c" x="15" y="75">4</text><text class="c" x="15" y="104">EC</text><text class="t" x="89" y="48" fill="#953735" style="font-size:18px">Desarrollo</text><text class="t" x="89" y="76" fill="#953735" style="font-size:18px">Humano</text></g>
<g transform="translate(1279,1169)"><rect width="147" height="113" fill="#ccc0da"/><rect width="30" height="84" fill="#fff"/><rect y="84" width="30" height="29" fill="#f2dcdb"/><path d="M30 0V113M0 28H30M0 56H30M0 84H30" stroke="#000" stroke-width="3"/><rect width="147" height="113" fill="none" stroke="#000" stroke-width="5"/><text class="c" x="15" y="19">PE</text><text class="c" x="15" y="75">2</text><text class="c" x="15" y="104">EC</text><g fill="#953735"><text class="s" x="89" y="39">Metodología de la</text><text class="s" x="89" y="61">Investigación</text><text class="s" x="89" y="83">(MI)</text></g></g>
<g transform="translate(1505,1169)"><rect width="147" height="113" fill="#ccc0da"/><rect width="30" height="84" fill="#fff"/><rect width="30" height="28" fill="#c4bd97"/><rect y="84" width="30" height="29" fill="#f2dcdb"/><path d="M30 0V113M0 28H30M0 56H30M0 84H30" stroke="#000" stroke-width="3"/><rect width="147" height="113" fill="none" stroke="#000" stroke-width="5"/><text class="c" x="15" y="19">MI</text><text class="c" x="15" y="75">2</text><text class="c" x="15" y="104">EC</text><g fill="#953735"><text class="s" x="89" y="29">Redacción de</text><text class="s" x="89" y="51">Documentos</text><text class="s" x="89" y="73">Técnicos y/o</text><text class="s" x="89" y="95">Científicos</text></g></g>

<!-- Octavo / Noveno -->
<g transform="translate(1769,300)"><rect width="147" height="113" fill="#c4b89e"/><rect width="30" height="84" fill="#ddd6b4"/><rect y="84" width="30" height="29" fill="#9bae4a"/><path d="M30 0V113M0 28H30M0 56H30M0 84H30" stroke="#5f5a38" stroke-width="3"/><rect width="147" height="113" fill="none" stroke="#5f5a38" stroke-width="5"/><g fill="#6f6a4a"><text class="c" x="15" y="19">PE</text><text class="c" x="15" y="47">AL</text><text class="c" x="15" y="75">4</text><text class="c" x="15" y="104" fill="#d8e4a8">EP</text></g><g fill="#c0784f"><text class="t" x="89" y="36">Ingeniería</text><text class="t" x="89" y="62">Económica</text><text class="t" x="89" y="88">(EC)</text></g></g>
<g transform="translate(1995,300)"><rect width="147" height="113" fill="#c4b89e"/><rect width="30" height="84" fill="#ddd6b4"/><rect y="84" width="30" height="29" fill="#9bae4a"/><path d="M30 0V113M0 28H30M0 56H30M0 84H30" stroke="#5f5a38" stroke-width="3"/><rect width="147" height="113" fill="none" stroke="#5f5a38" stroke-width="5"/><g fill="#6f6a4a"><text class="c" x="15" y="19">EC</text><text class="c" x="15" y="75">4</text><text class="c" x="15" y="104" fill="#d8e4a8">EP</text></g><g fill="#c0784f"><text class="s" x="89" y="39" style="font-size:12px">Ingeniería de</text><text class="s" x="89" y="61" style="font-size:12px">Métodos y</text><text class="s" x="89" y="83" style="font-size:12px">Administración</text></g></g>
<g transform="translate(1769,445)"><rect width="147" height="113" fill="#c4b89e"/><rect width="30" height="84" fill="#ddd6b4"/><rect y="84" width="30" height="29" fill="#e0cfa8"/><path d="M30 0V113M0 28H30M0 56H30M0 84H30" stroke="#5f5a38" stroke-width="3"/><rect width="147" height="113" fill="none" stroke="#5f5a38" stroke-width="5"/><g fill="#6f6a4a"><text class="c" x="15" y="19">DH</text><text class="c" x="15" y="75">4</text><text class="c" x="15" y="104">EC</text></g><g fill="#c0784f"><text class="t" x="89" y="49">Impacto</text><text class="t" x="89" y="75">Ambiental</text></g></g>
<g transform="translate(1995,445)"><rect width="147" height="113" fill="#c4b89e"/><rect width="30" height="84" fill="#ddd6b4"/><rect y="84" width="30" height="29" fill="#9bae4a"/><path d="M30 0V113M0 28H30M0 56H30M0 84H30" stroke="#5f5a38" stroke-width="3"/><rect width="147" height="113" fill="none" stroke="#5f5a38" stroke-width="5"/><g fill="#6f6a4a"><text class="c" x="15" y="19">EC</text><text class="c" x="15" y="47">IA</text><text class="c" x="15" y="75">4</text><text class="c" x="15" y="104" fill="#d8e4a8">EP</text></g><g fill="#c0784f"><text class="s" x="89" y="39" style="font-size:12px">Aseguramiento y</text><text class="s" x="89" y="61" style="font-size:12px">Gestión de la</text><text class="s" x="89" y="83" style="font-size:12px">Calidad</text></g></g>

<!-- Optativas -->
<g transform="translate(1769,590)"><rect width="147" height="113" fill="#fff"/><rect y="84" width="30" height="29" fill="#953735"/><path d="M30 0V113M0 28H30M0 56H30M0 84H30" stroke="#000" stroke-width="3"/><rect width="147" height="113" fill="none" stroke="#000" stroke-width="5"/><text class="c" x="15" y="75">4</text><text class="c w" x="15" y="104">RA</text><text class="t" x="89" y="49">Optativa</text><text class="t" x="89" y="75">Selectiva I</text></g>
<g transform="translate(1995,590)"><rect width="147" height="113" fill="#fff"/><rect y="84" width="30" height="29" fill="#953735"/><path d="M30 0V113M0 28H30M0 56H30M0 84H30" stroke="#000" stroke-width="3"/><rect width="147" height="113" fill="none" stroke="#000" stroke-width="5"/><text class="c" x="15" y="75">4</text><text class="c w" x="15" y="105" style="font-size:17px">RA</text><text class="t" x="89" y="49">Optativa</text><text class="t" x="89" y="75">Selectiva IV</text></g>
<g transform="translate(1769,735)"><rect width="147" height="113" fill="#fff"/><rect y="84" width="30" height="29" fill="#953735"/><path d="M30 0V113M0 28H30M0 56H30M0 84H30" stroke="#000" stroke-width="3"/><rect width="147" height="113" fill="none" stroke="#000" stroke-width="5"/><text class="c" x="15" y="75">4</text><text class="c w" x="15" y="104">RA</text><text class="t" x="89" y="49">Optativa</text><text class="t" x="89" y="75">Selectiva II</text></g>
<g transform="translate(1995,735)"><rect width="147" height="113" fill="#fff"/><rect y="84" width="30" height="29" fill="#953735"/><path d="M30 0V113M0 28H30M0 56H30M0 84H30" stroke="#000" stroke-width="3"/><rect width="147" height="113" fill="none" stroke="#000" stroke-width="5"/><text class="c" x="15" y="75">4</text><text class="c w" x="15" y="105" style="font-size:17px">RA</text><text class="t" x="89" y="49">Optativa</text><text class="t" x="89" y="75">Selectiva V</text></g>
<g transform="translate(1769,880)"><rect width="147" height="113" fill="#fff"/><rect y="84" width="30" height="29" fill="#953735"/><path d="M30 0V113M0 28H30M0 56H30M0 84H30" stroke="#000" stroke-width="3"/><rect width="147" height="113" fill="none" stroke="#000" stroke-width="5"/><text class="c" x="15" y="75">4</text><text class="c w" x="15" y="104">RA</text><text class="t" x="89" y="49">Optativa</text><text class="t" x="89" y="75">Selectiva III</text></g>
<g transform="translate(1995,880)"><rect width="147" height="113" fill="#fff"/><rect y="84" width="30" height="29" fill="#953735"/><path d="M30 0V113M0 28H30M0 56H30M0 84H30" stroke="#000" stroke-width="3"/><rect width="147" height="113" fill="none" stroke="#000" stroke-width="5"/><text class="c" x="15" y="75">4</text><text class="c w" x="15" y="105" style="font-size:17px">RA</text><text class="t" x="89" y="49">Optativa</text><text class="t" x="89" y="75">Selectiva VI</text></g>
<g transform="translate(1769,1025)"><rect width="147" height="113" fill="#fff"/><rect y="84" width="30" height="29" fill="#953735"/><path d="M30 0V113M0 28H30M0 56H30M0 84H30" stroke="#000" stroke-width="3"/><rect width="147" height="113" fill="none" stroke="#000" stroke-width="5"/><text class="c" x="15" y="75">4</text><text class="c w" x="15" y="104">RA</text><text class="t" x="89" y="49">Optativa Libre</text><text class="t" x="89" y="75">I</text></g>
<g transform="translate(1995,1025)"><rect width="147" height="113" fill="#fff"/><rect y="84" width="30" height="29" fill="#953735"/><path d="M30 0V113M0 28H30M0 56H30M0 84H30" stroke="#000" stroke-width="3"/><rect width="147" height="113" fill="none" stroke="#000" stroke-width="5"/><text class="c" x="15" y="75">4</text><text class="c w" x="15" y="105" style="font-size:17px">RA</text><text class="t" x="89" y="49">Optativa Libre</text><text class="t" x="89" y="75">III</text></g>
<g transform="translate(1769,1169)"><rect width="147" height="113" fill="#fff"/><rect y="84" width="30" height="29" fill="#953735"/><path d="M30 0V113M0 28H30M0 56H30M0 84H30" stroke="#000" stroke-width="3"/><rect width="147" height="113" fill="none" stroke="#000" stroke-width="5"/><text class="c" x="15" y="75">4</text><text class="c w" x="15" y="104">RA</text><text class="t" x="89" y="49">Optativa Libre</text><text class="t" x="89" y="75">II</text></g>
<g transform="translate(1995,1169)"><rect width="147" height="113" fill="#fff"/><rect y="84" width="30" height="29" fill="#953735"/><path d="M30 0V113M0 28H30M0 56H30M0 84H30" stroke="#000" stroke-width="3"/><rect width="147" height="113" fill="none" stroke="#000" stroke-width="5"/><text class="c" x="15" y="75">4</text><text class="c w" x="15" y="105" style="font-size:17px">RA</text><text class="t" x="89" y="49">Optativa Libre</text><text class="t" x="89" y="75">IV</text></g>

<!-- Decimo -->
<g transform="translate(2251,300)"><rect width="147" height="113" fill="#fff"/><rect width="30" height="28" fill="#953735"/><rect y="84" width="30" height="29" fill="#31859c"/><path d="M30 0V113M0 28H30M0 56H30M0 84H30" stroke="#000" stroke-width="3"/><rect width="147" height="113" fill="none" stroke="#000" stroke-width="5"/><text class="c w" x="15" y="19">I</text><text class="c" x="15" y="75">5</text><text class="c w" x="15" y="104" font-weight="bold">EI</text><text class="t" x="89" y="49">Integradora I</text><text class="t" x="89" y="75">(Ingles)</text></g>
<g transform="translate(2251,445)"><rect width="147" height="113" fill="#fff"/><rect width="30" height="28" fill="#953735"/><rect y="84" width="30" height="29" fill="#31859c"/><path d="M30 0V113M0 28H30M0 56H30M0 84H30" stroke="#000" stroke-width="3"/><rect width="147" height="113" fill="none" stroke="#000" stroke-width="5"/><text class="c w" x="15" y="19">RA</text><text class="c" x="15" y="75">5</text><text class="c w" x="15" y="104" font-weight="bold">EI</text><text class="t" x="89" y="36">Integradora II</text><text class="t" x="89" y="62">(Servicio</text><text class="t" x="89" y="88">Social)</text></g>
<g transform="translate(2251,590)"><rect width="147" height="113" fill="#fff"/><rect width="30" height="28" fill="#953735"/><rect y="84" width="30" height="29" fill="#31859c"/><path d="M30 0V113M0 28H30M0 56H30M0 84H30" stroke="#000" stroke-width="3"/><rect width="147" height="113" fill="none" stroke="#000" stroke-width="5"/><text class="c w" x="15" y="19">RA</text><text class="c" x="15" y="75">5</text><text class="c w" x="15" y="104" font-weight="bold">EI</text><text class="t" x="89" y="49">Proyecto</text><text class="t" x="89" y="75">Integrador</text></g>

<text x="220" y="1322" fill="#f00" style="font-size:28px;font-style:italic">*Se cursan además 22 Laboratorios</text>
<text x="22" y="1074" fill="#f2f2f2" style="font-size:30px">2</text>
<text x="222" y="1074" fill="#7a7a7a" text-anchor="end" textLength="150" lengthAdjust="spacingAndGlyphs" style="font-size:30px">noviembre</text>
</svg>
</body></html>
